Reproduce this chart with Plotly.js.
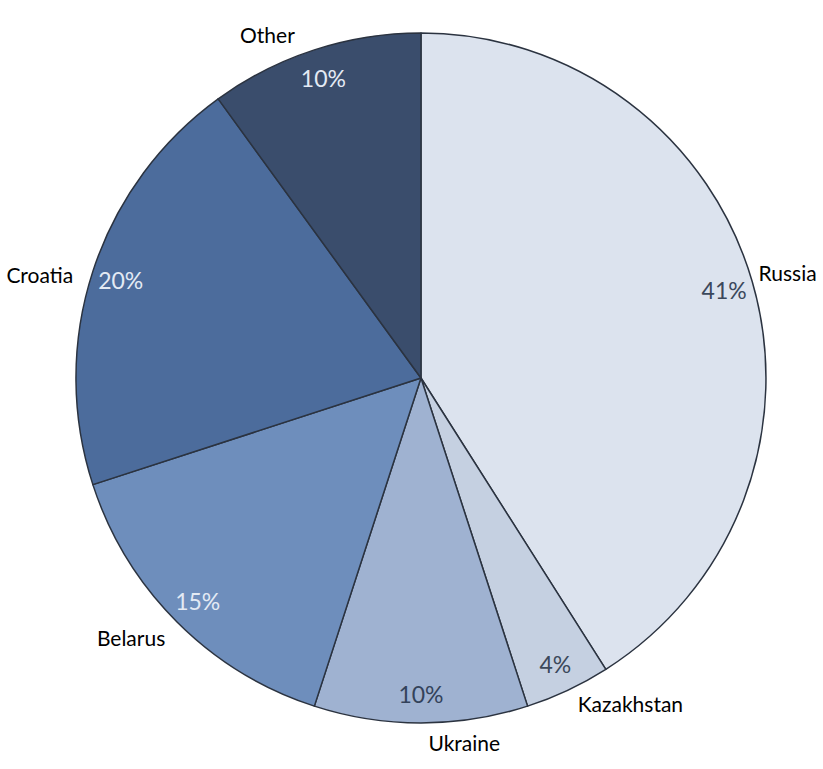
<!DOCTYPE html>
<html>
<head>
<meta charset="utf-8">
<script src="https://cdn.plot.ly/plotly-3.0.1.min.js"></script>
<style>html,body{margin:0;padding:0;background:#fff;}#chart{width:823px;height:769px;}</style>
</head>
<body>
<div id="chart"></div>
<script>
const categories = ["Russia", "Kazakhstan", "Ukraine", "Belarus", "Croatia", "Other"];
const shares = [41, 4, 10, 15, 20, 10];
const sliceColors = ["#dce3ee", "#c5d0e1", "#9fb2d1", "#6e8ebc", "#4c6c9c", "#3a4d6c"];
const percentColors = ["#3b485b", "#3b485b", "#33425a", "#e3eaf4", "#e3eaf4", "#e3eaf4"];

const domain = {x: [0.0923, 0.9307], y: [0.0598, 0.9571]};
const labelDomain = {x: [0.0778, 0.9332], y: [0.0507, 0.9662]};
const clear = categories.map(() => "rgba(0,0,0,0)");

const slices = {
  type: "pie", values: shares, labels: categories, sort: false,
  direction: "clockwise", rotation: 0, domain: domain,
  marker: {colors: sliceColors, line: {color: "#2b3340", width: 1.5}},
  textinfo: "none", showlegend: false, hoverinfo: "skip"
};
const percents = {
  type: "pie", values: shares, labels: categories, sort: false,
  direction: "clockwise", rotation: 0, domain: domain, hole: 0.83,
  marker: {colors: clear, line: {width: 0}},
  texttemplate: "%{value}%", textposition: "inside",
  insidetextorientation: "horizontal",
  insidetextfont: {family: "Lato, sans-serif", size: 23, color: percentColors},
  showlegend: false, hoverinfo: "skip"
};
const names = {
  type: "pie", values: shares, labels: categories, sort: false,
  direction: "clockwise", rotation: -1, domain: labelDomain,
  marker: {colors: clear, line: {width: 0}},
  textinfo: "label", textposition: "outside",
  outsidetextfont: {family: "Lato, sans-serif", size: 21, color: "#000000"},
  showlegend: false, hoverinfo: "skip"
};

Plotly.newPlot("chart", [slices, percents, names], {
  width: 823, height: 769,
  margin: {l: 0, r: 0, t: 0, b: 0},
  paper_bgcolor: "#ffffff",
  showlegend: false
}, {displayModeBar: false, staticPlot: true});
</script>
</body>
</html>
